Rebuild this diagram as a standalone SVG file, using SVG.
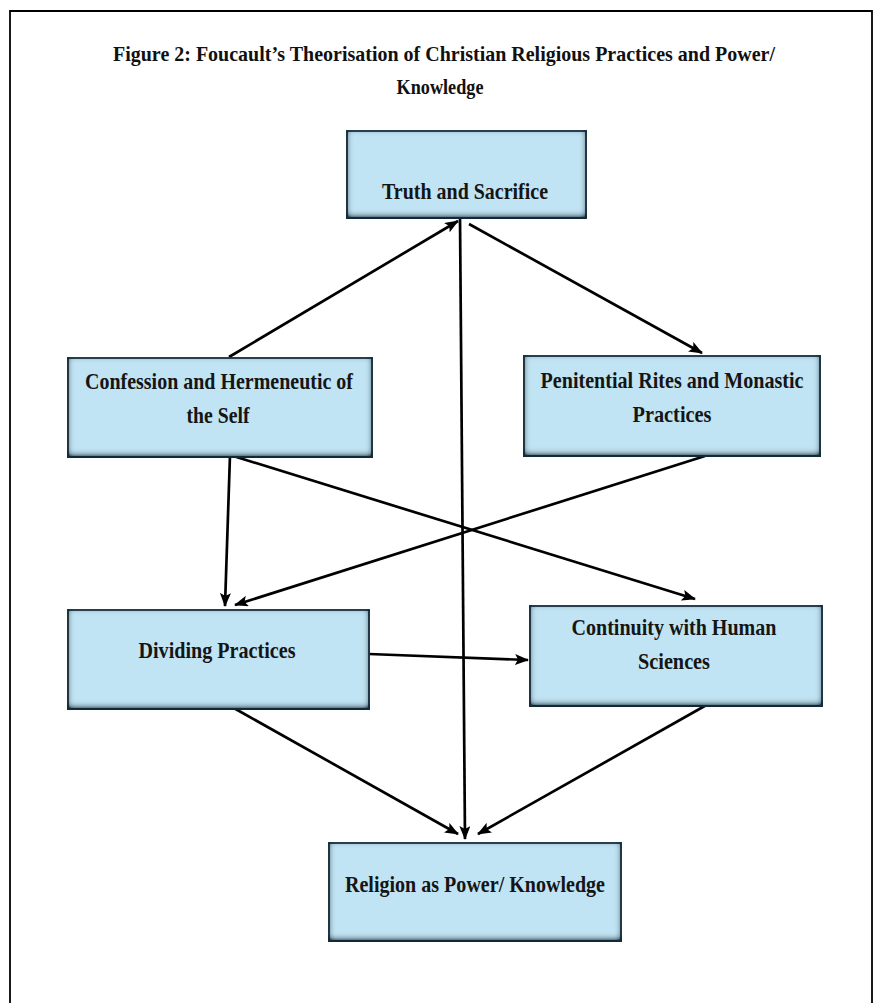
<svg xmlns="http://www.w3.org/2000/svg" width="880" height="1003" viewBox="0 0 880 1003">
  <defs>
    <style>
      .title { font-family: "Liberation Serif", "Times New Roman", serif; font-weight: bold; font-size: 22px; fill: #111; }
      .lbl { font-family: "Liberation Serif", "Times New Roman", serif; font-weight: bold; font-size: 23px; fill: #151515; }
      .box { fill: #C1E4F4; stroke: #1D3545; stroke-width: 1.8; }
      .conn line { stroke: #000; stroke-width: 2.7; fill: none; marker-end: url(#ah); }
    </style>
    <filter id="inset" x="-5%" y="-5%" width="110%" height="110%">
      <feGaussianBlur in="SourceAlpha" stdDeviation="3.5" result="blur"/>
      <feOffset in="blur" dy="-2" result="ob"/>
      <feComposite in="SourceAlpha" in2="ob" operator="arithmetic" k2="1.6" k3="-1.6" result="inner"/>
      <feFlood flood-color="#122A38" flood-opacity="1"/>
      <feComposite in2="inner" operator="in" result="shadow"/>
      <feMerge>
        <feMergeNode in="SourceGraphic"/>
        <feMergeNode in="shadow"/>
      </feMerge>
    </filter>
    <marker id="ah" viewBox="0 0 14 11" refX="13" refY="5.5" markerWidth="14" markerHeight="11" markerUnits="userSpaceOnUse" orient="auto">
      <path d="M0,0 L14,5.5 L0,11 L3,5.5 Z" fill="#000"/>
    </marker>
  </defs>

  <rect x="0" y="0" width="880" height="1003" fill="#ffffff"/>
  <path d="M10,1010 L10,11 L872,11 L872,1010" fill="none" stroke="#000" stroke-width="1.8"/>

  <g id="title">
    <text class="title" x="444" y="61" text-anchor="middle" textLength="662" lengthAdjust="spacingAndGlyphs">Figure 2: Foucault’s Theorisation of Christian Religious Practices and Power/</text>
    <text class="title" x="440" y="94" text-anchor="middle" textLength="87" lengthAdjust="spacingAndGlyphs">Knowledge</text>
  </g>

  <g id="connectors" class="conn">
    <line x1="229" y1="357" x2="458" y2="221"/>
    <line x1="469" y1="224" x2="702" y2="353"/>
    <line x1="460" y1="217" x2="465" y2="839"/>
    <line x1="230" y1="455" x2="225" y2="606"/>
    <line x1="230" y1="455" x2="695" y2="599"/>
    <line x1="705" y1="456" x2="235" y2="605"/>
    <line x1="369" y1="654" x2="528" y2="660"/>
    <line x1="232" y1="707" x2="458" y2="834"/>
    <line x1="710" y1="703" x2="478" y2="834"/>
  </g>

  <g id="node-truth">
    <rect class="box" x="347" y="131" width="239" height="87" filter="url(#inset)"/>
    <text class="lbl" x="465" y="199" text-anchor="middle" textLength="166" lengthAdjust="spacingAndGlyphs">Truth and Sacrifice</text>
  </g>

  <g id="node-confession">
    <rect class="box" x="68" y="358" width="304" height="99" filter="url(#inset)"/>
    <text class="lbl" x="219" y="389" text-anchor="middle" textLength="268" lengthAdjust="spacingAndGlyphs">Confession and Hermeneutic of</text>
    <text class="lbl" x="218" y="423" text-anchor="middle" textLength="63" lengthAdjust="spacingAndGlyphs">the Self</text>
  </g>

  <g id="node-penitential">
    <rect class="box" x="524" y="356" width="296" height="100" filter="url(#inset)"/>
    <text class="lbl" x="672" y="388" text-anchor="middle" textLength="263" lengthAdjust="spacingAndGlyphs">Penitential Rites and Monastic</text>
    <text class="lbl" x="672" y="422" text-anchor="middle" textLength="79" lengthAdjust="spacingAndGlyphs">Practices</text>
  </g>

  <g id="node-dividing">
    <rect class="box" x="68" y="610" width="301" height="99" filter="url(#inset)"/>
    <text class="lbl" x="217" y="658" text-anchor="middle" textLength="157" lengthAdjust="spacingAndGlyphs">Dividing Practices</text>
  </g>

  <g id="node-continuity">
    <rect class="box" x="530" y="606" width="292" height="100" filter="url(#inset)"/>
    <text class="lbl" x="674" y="635" text-anchor="middle" textLength="205" lengthAdjust="spacingAndGlyphs">Continuity with Human</text>
    <text class="lbl" x="674" y="669" text-anchor="middle" textLength="72" lengthAdjust="spacingAndGlyphs">Sciences</text>
  </g>

  <g id="node-religion">
    <rect class="box" x="329" y="843" width="292" height="98" filter="url(#inset)"/>
    <text class="lbl" x="475" y="892" text-anchor="middle" textLength="260" lengthAdjust="spacingAndGlyphs">Religion as Power/ Knowledge</text>
  </g>
</svg>
